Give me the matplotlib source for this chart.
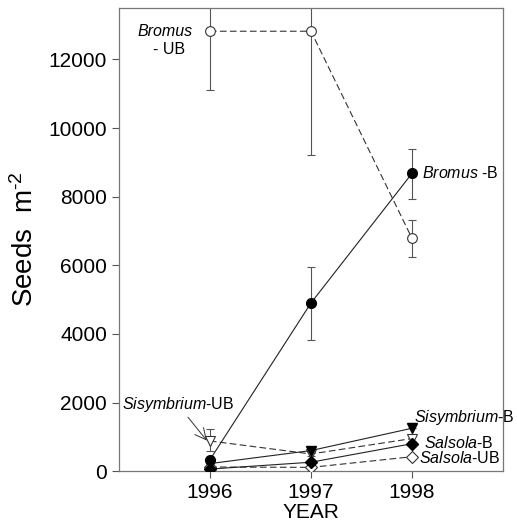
import numpy as np
import matplotlib.pyplot as plt

plt.rcParams['font.family'] = ['Liberation Sans', 'DejaVu Sans']
plt.rcParams['mathtext.fontset'] = 'custom'
plt.rcParams['mathtext.rm'] = 'Liberation Sans'
plt.rcParams['mathtext.it'] = 'Liberation Sans:italic'

years = [1996, 1997, 1998]

# seeds per m2
bromus_b = [330, 4900, 8680]
bromus_b_lo = [0, 3830, 7940]
bromus_b_hi = [420, 5950, 9400]

bromus_ub = [12820, 12820, 6780]
bromus_ub_lo = [11120, 9200, 6250]
bromus_ub_hi = [14500, 14500, 7310]

sisym_b = [220, 600, 1250]
sisym_b_hi = [300, 680, 1400]
sisym_ub = [880, 500, 950]
sisym_ub_lo = [600, 440, 870]
sisym_ub_hi = [1220, 560, 1050]
salsola_b = [60, 260, 800]
salsola_ub = [120, 110, 420]

fig = plt.figure(figsize=(5.17, 5.27), dpi=100)
ax = fig.add_axes([0.230, 0.106, 0.743, 0.879])

ecol = '#555555'


def err(ax, y, lo, hi):
    y = np.array(y)
    yerr = [y - np.array(lo), np.array(hi) - y]
    ax.errorbar(years, y, yerr=yerr, fmt='none', ecolor=ecol, elinewidth=0.8,
                capsize=3, capthick=0.8, zorder=2)


err(ax, bromus_ub, bromus_ub_lo, bromus_ub_hi)
err(ax, bromus_b, bromus_b_lo, bromus_b_hi)
err(ax, sisym_b, sisym_b, sisym_b_hi)
err(ax, sisym_ub, sisym_ub_lo, sisym_ub_hi)

dash = (0, (6, 3))
ax.plot(years, bromus_ub, ls=dash, color='#333333', lw=0.8, marker='o', ms=7,
        mfc='white', mec='#333333', mew=0.8, zorder=3)
ax.plot(years, bromus_b, ls='-', color='#222222', lw=0.8, marker='o', ms=7,
        mfc='black', mec='black', zorder=3)
ax.plot(years, sisym_ub, ls=dash, color='#333333', lw=0.8, marker='v', ms=7,
        mfc='white', mec='#333333', mew=0.8, zorder=3)
ax.plot(years, sisym_b, ls='-', color='#222222', lw=0.8, marker='v', ms=7,
        mfc='black', mec='black', zorder=4)
ax.plot(years, salsola_ub, ls=dash, color='#333333', lw=0.8, marker='D', ms=6,
        mfc='white', mec='#333333', mew=0.8, zorder=3)
ax.plot(years, salsola_b, ls='-', color='#222222', lw=0.8, marker='D', ms=6,
        mfc='black', mec='black', zorder=4)

ax.set_xlim(1995.1, 1998.9)
ax.set_ylim(0, 13500)
ax.set_xticks(years)
ax.set_yticks(range(0, 13000, 2000))
ax.tick_params(labelsize=15, length=5, width=0.8, color='#555555', direction='out')
for s in ax.spines.values():
    s.set_color('#777777')
    s.set_linewidth(0.9)

ax.set_xlabel('YEAR', fontsize=15, labelpad=1)
ax.set_ylabel('Seeds  m$^{\\text{-2}}$', fontsize=20, labelpad=7)

fs = 11.5
ax.text(1995.83, 12820, 'Bromus', style='italic', fontsize=fs, ha='right', va='center')
ax.text(1995.6, 12300, '- UB', fontsize=fs, ha='center', va='center')
ax.text(1998.1, 8700, '$\\it{Bromus}$ -B', fontsize=fs, ha='left', va='center')
ax.annotate('$\\it{Sisymbrium}$-UB', xy=(1995.97, 890), xytext=(1995.13, 1930),
            fontsize=fs, ha='left', va='center',
            arrowprops=dict(arrowstyle='->', color='#333333', lw=0.7,
                            shrinkA=0, shrinkB=0, mutation_scale=20))
ax.text(1998.02, 1550, '$\\it{Sisymbrium}$-B', fontsize=fs, ha='left', va='center',
        clip_on=False)
ax.text(1998.12, 820, '$\\it{Salsola}$-B', fontsize=fs, ha='left', va='center')
ax.text(1998.07, 380, '$\\it{Salsola}$-UB', fontsize=fs, ha='left', va='center')

fig.savefig('out.png', dpi=100)
